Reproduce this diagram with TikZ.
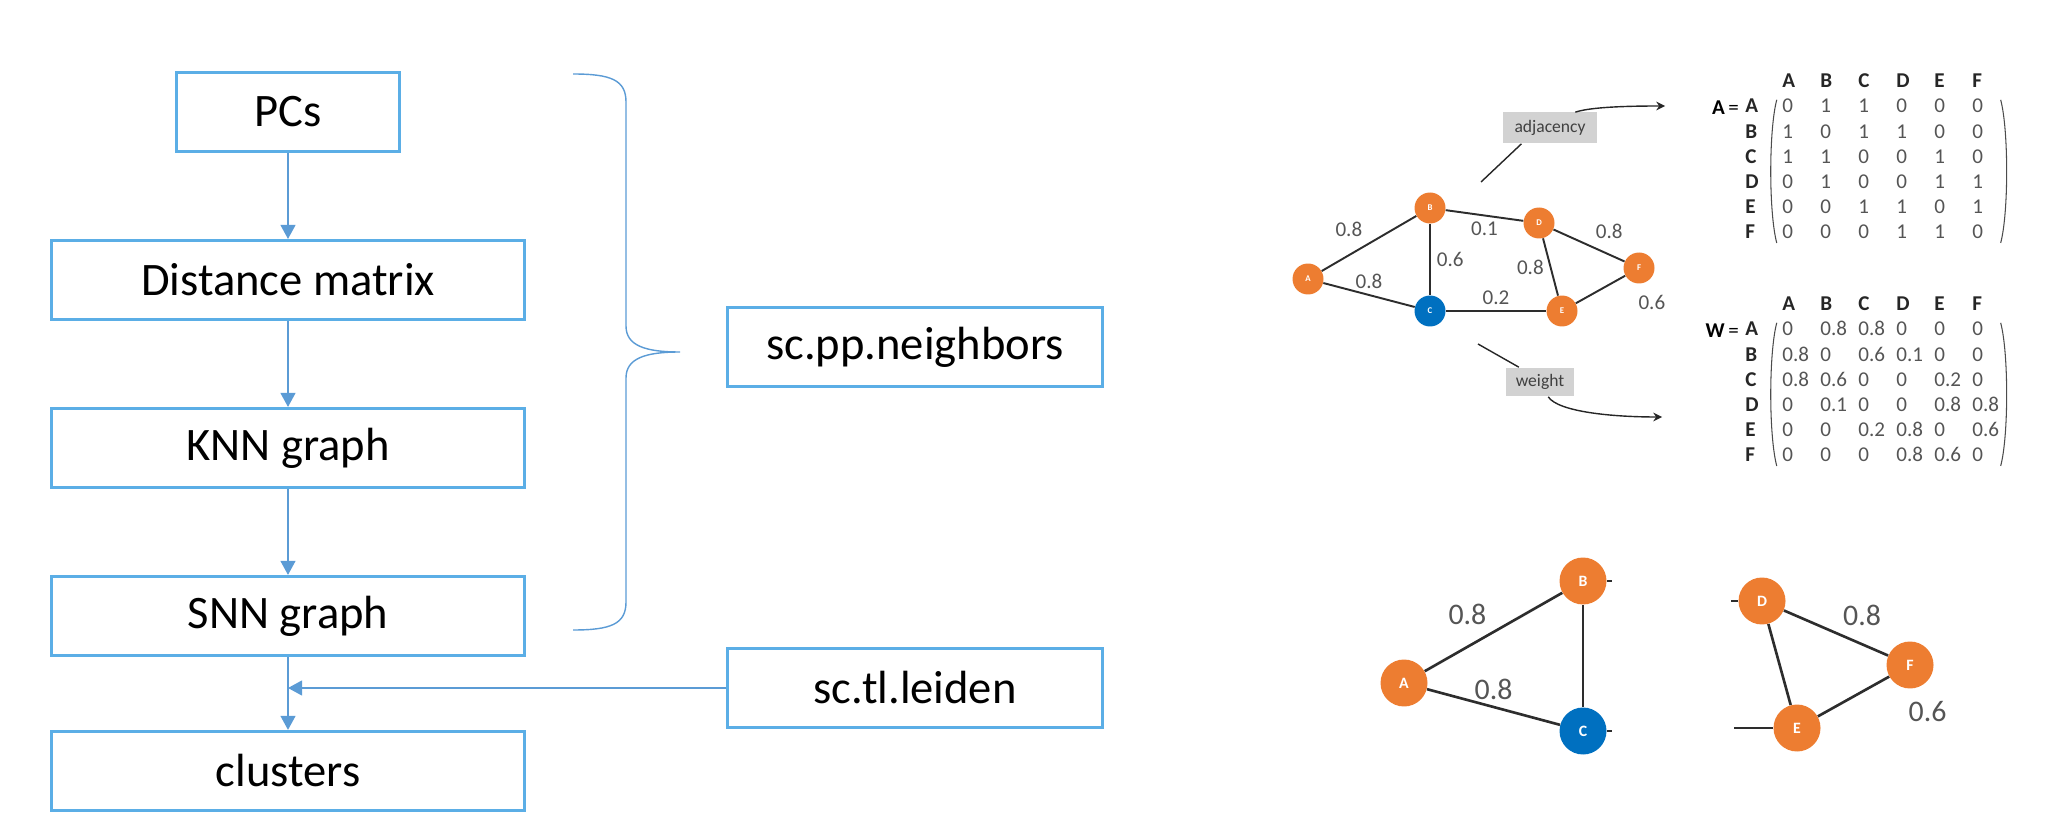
\documentclass[tikz,border=0pt]{standalone}
\usepackage{fontspec}
\setmainfont{Carlito}
\usetikzlibrary{arrows.meta,matrix}

\definecolor{boxblue}{RGB}{91,174,230}
\definecolor{linkblue}{RGB}{91,155,213}
\definecolor{nodeorange}{RGB}{237,125,49}
\definecolor{nodeblue}{RGB}{0,112,192}
\definecolor{edgegray}{RGB}{45,45,45}
\definecolor{labelgray}{RGB}{85,85,85}
\definecolor{tagfill}{RGB}{210,210,210}

\begin{document}
\begin{tikzpicture}[x=0.02cm,y=0.02cm,>={Triangle[length=8pt,width=8.5pt]},node distance=3.36cm,
    flow box/.style={draw=boxblue,line width=1.7pt,minimum height=1.58cm,inner sep=0pt,font=\fontsize{26.5}{30}\selectfont},
    flow link/.style={->,color=linkblue,line width=0.85pt},
    brace line/.style={draw=linkblue,line width=0.8pt},
    vertex/.style={circle,fill=nodeorange,text=white,inner sep=0pt,minimum size=0.62cm,font=\fontsize{5}{6}\selectfont\bfseries},
    big vertex/.style={circle,fill=nodeorange,text=white,inner sep=0pt,minimum size=0.94cm,font=\fontsize{9}{10}\selectfont\bfseries},
    tag/.style={fill=tagfill,inner sep=0pt,text=black!75,font=\fontsize{10}{12}\selectfont},
    note line/.style={draw=black!85,line width=0.8pt},
    note arrow/.style={note line,-{Stealth[length=5pt,width=5pt]}},
    paren/.style={draw=black!70,line width=0.6pt},
    wmat/.style={matrix of nodes,inner sep=0pt,row sep=0pt,column sep=0pt,anchor=north west,
        nodes={inner sep=0pt,text width=0.76cm,align=left,minimum height=0.504cm,text height=1.6ex,text depth=0.3ex,
               font=\fontsize{12}{14}\selectfont,text=labelgray},
        row 1/.style={nodes={font=\fontsize{12}{14}\selectfont\bfseries,text=black!85}},
        column 1/.style={nodes={font=\fontsize{12}{14}\selectfont\bfseries,text=black!85,text width=0.74cm}},
        column 7/.style={nodes={text width=0.56cm}}}]
    \useasboundingbox (0,0) rectangle (2057,822);

    \node[flow box,minimum width=4.46cm] (pcs) at (288,710) {PCs};
    \node[flow box,minimum width=9.46cm] (dist) [below of = pcs] {Distance matrix};
    \node[flow box,minimum width=9.46cm] (knn) [below of = dist] {KNN graph};
    \node[flow box,minimum width=9.46cm] (snn) [below of = knn] {SNN graph};
    \node[flow box,minimum width=9.46cm,node distance=3.1cm] (clus) [below of = snn] {clusters};
    \node[flow box,minimum width=7.5cm] (nbrs) at (915,475) {sc.pp.neighbors};
    \node[flow box,minimum width=7.5cm] (leiden) at (915,134) {sc.tl.leiden};

    \path[flow link]
        (pcs) edge (dist)
        (dist) edge (knn)
        (knn) edge (snn)
        (snn) edge (clus)
        (leiden) edge (leiden.west -| snn.south)
        ;

    \coordinate (brtop) at (573,748);
    \coordinate (brtip) at (680,470);
    \coordinate (brbot) at (573,192);
    \draw[brace line] (brtop) .. controls +(38,0) and +(0,22) .. (626,720) -- (626,496)
        .. controls +(0,-20) and +(-34,0) .. (brtip)
        .. controls +(-34,0) and +(0,20) .. (626,444) -- (626,220)
        .. controls +(0,-22) and +(38,0) .. (brbot);

    \node[vertex] (A) at (1308,543) {A};
    \node[vertex] (B) at (1430,614) {B};
    \node[vertex,fill=nodeblue] (C) at (1430,511) {C};
    \node[vertex] (D) at (1539,599) {D};
    \node[vertex] (E) at (1562,511) {E};
    \node[vertex] (F) at (1639,554) {F};

    \path[draw=edgegray,line width=1.1pt,every node/.style={font=\fontsize{12}{14}\selectfont,text=labelgray}]
        (A) edge node[above left] {0.8} (B)
        (A) edge node[above] {0.8} (C)
        (B) edge node[right] {0.6} (C)
        (B) edge node[below] {0.1} (D)
        (D) edge node[left] {0.8} (E)
        (C) edge node[above] {0.2} (E)
        (D) edge node[above right] {0.8} (F)
        (E) edge node[at end,below right,xshift=3.7pt,yshift=-7pt] {0.6} (F)
        ;

    \node[tag,minimum width=1.88cm,minimum height=0.62cm] (adj) at (1550,694) {adjacency};
    \coordinate (adjfoot) at (1481,640);
    \coordinate (adjtip) at (1665,716);
    \draw[note line] (adjfoot) -- (adj.209);
    \draw[note arrow] (adj.32) .. controls +(15,5) and +(-40,0) .. (adjtip);

    \node[tag,minimum width=1.36cm,minimum height=0.58cm] (wt) at (1540,440) {weight};
    \coordinate (wtfoot) at (1478,478);
    \coordinate (wttip) at (1662,405);
    \draw[note line] (wtfoot) -- (wt.145);
    \draw[note arrow] (wt.-61) .. controls +(10,-15) and +(-50,0) .. (wttip);

    \matrix (amat) [wmat] at (1745,752.6) {
          & A & B & C & D & E & F \\
        A & 0 & 1 & 1 & 0 & 0 & 0 \\
        B & 1 & 0 & 1 & 1 & 0 & 0 \\
        C & 1 & 1 & 0 & 0 & 1 & 0 \\
        D & 0 & 1 & 0 & 0 & 1 & 1 \\
        E & 0 & 0 & 1 & 1 & 0 & 1 \\
        F & 0 & 0 & 0 & 1 & 1 & 0 \\
    };
    \node[anchor=east,font=\fontsize{12}{14}\selectfont] (aeq) at (amat-2-1.west) {\textbf{A}\,=};
    \draw[paren] ([xshift=-3pt,yshift=-3pt]amat-2-2.north west) .. controls +(-8,-30) and +(-8,30) .. ([xshift=-3pt,yshift=2pt]amat-7-2.south west);
    \draw[paren] ([yshift=-3pt]amat-2-7.north east) .. controls +(8,-30) and +(8,30) .. ([yshift=2pt]amat-7-7.south east);

    \matrix (wmat) [wmat] at (1745,529.6) {
          & A & B & C & D & E & F \\
        A & 0 & 0.8 & 0.8 & 0 & 0 & 0 \\
        B & 0.8 & 0 & 0.6 & 0.1 & 0 & 0 \\
        C & 0.8 & 0.6 & 0 & 0 & 0.2 & 0 \\
        D & 0 & 0.1 & 0 & 0 & 0.8 & 0.8 \\
        E & 0 & 0 & 0.2 & 0.8 & 0 & 0.6 \\
        F & 0 & 0 & 0 & 0.8 & 0.6 & 0 \\
    };
    \node[anchor=east,font=\fontsize{12}{14}\selectfont] (weq) at (wmat-2-1.west) {\textbf{W}\,=};
    \draw[paren] ([xshift=-3pt,yshift=-3pt]wmat-2-2.north west) .. controls +(-8,-30) and +(-8,30) .. ([xshift=-3pt,yshift=2pt]wmat-7-2.south west);
    \draw[paren] ([yshift=-3pt]wmat-2-7.north east) .. controls +(8,-30) and +(8,30) .. ([yshift=2pt]wmat-7-7.south east);

    \node[big vertex] (A2) at (1404,139) {A};
    \node[big vertex] (B2) at (1583,241) {B};
    \node[big vertex,fill=nodeblue] (C2) at (1583,91) {C};
    \node[big vertex] (D2) at (1762,221) {D};
    \node[big vertex] (E2) at (1797,94) {E};
    \node[big vertex] (F2) at (1910,157) {F};
    \coordinate (bstub) at (1612,241);
    \coordinate (cstub) at (1612,91);
    \coordinate (dstub) at (1731,221);
    \coordinate (estub) at (1734,94);

    \path[draw=edgegray,line width=1.5pt,every node/.style={font=\fontsize{17}{20}\selectfont,text=labelgray}]
        (A2) edge node[above left] {0.8} (B2)
        (A2) edge node[above] {0.8} (C2)
        (B2) edge (C2)
        (D2) edge node[above right] {0.8} (F2)
        (D2) edge (E2)
        (E2) edge node[at end,below right,xshift=7pt,yshift=-10pt] {0.6} (F2)
        (B2) edge (bstub)
        (C2) edge (cstub)
        (D2) edge (dstub)
        (E2) edge (estub)
        ;
\end{tikzpicture}
\end{document}
